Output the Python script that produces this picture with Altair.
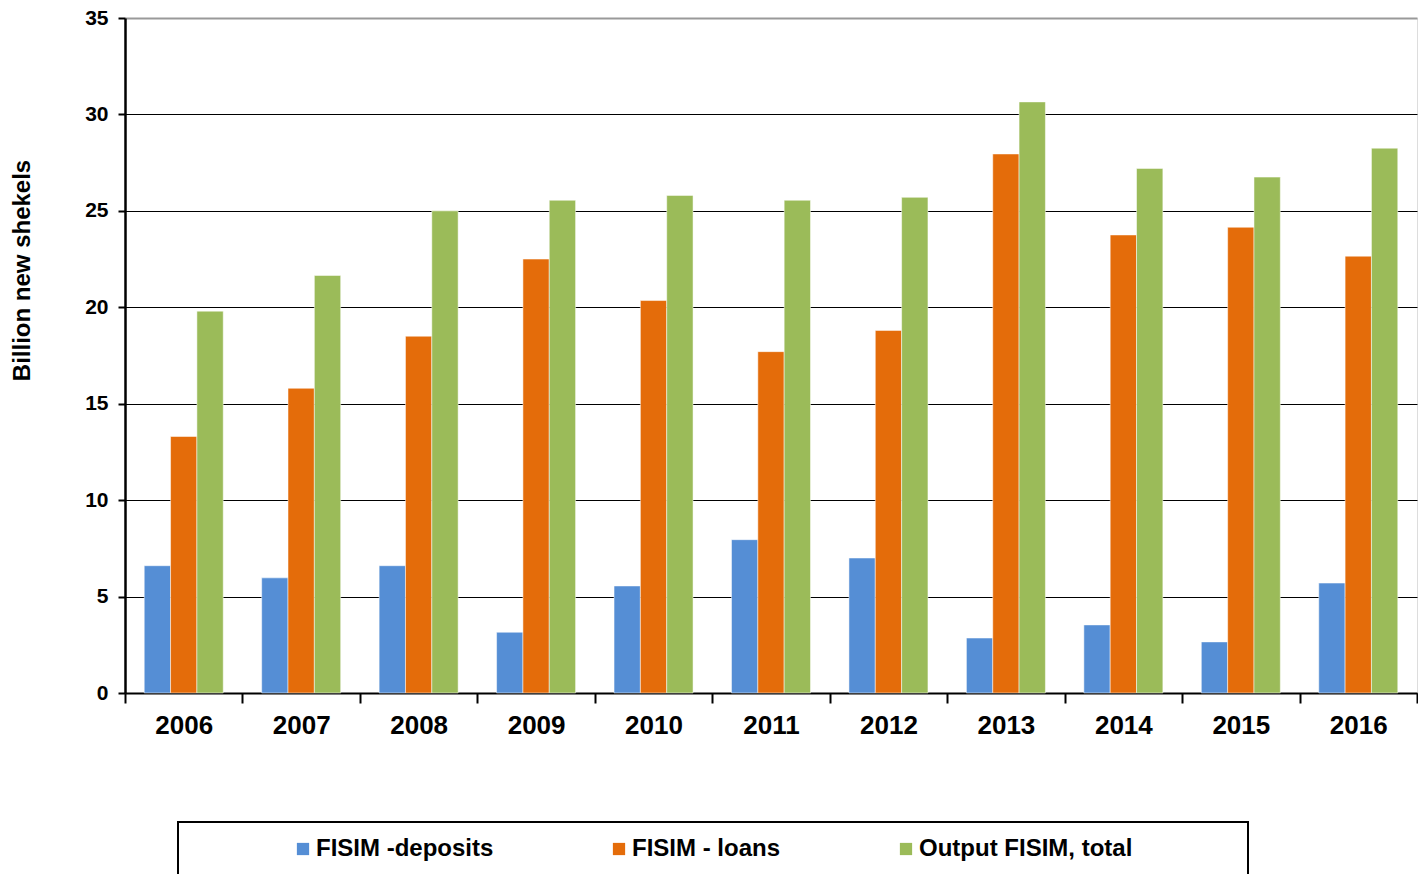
import altair as alt
import pandas as pd

years = ["2006", "2007", "2008", "2009", "2010", "2011", "2012", "2013", "2014", "2015", "2016"]
deposits = [6.6, 5.97, 6.6, 3.15, 5.55, 7.95, 7.0, 2.85, 3.53, 2.65, 5.7]
loans = [13.3, 15.8, 18.5, 22.5, 20.35, 17.7, 18.8, 27.95, 23.75, 24.15, 22.65]
total = [19.8, 21.65, 25.0, 25.55, 25.8, 25.55, 25.7, 30.65, 27.2, 26.75, 28.25]

series = ["FISIM -deposits", "FISIM - loans", "Output FISIM, total"]
colors = ["#558ED5", "#E46C0A", "#9BBB59"]

rows = []
for i, y in enumerate(years):
    for s, vals in zip(series, [deposits, loans, total]):
        rows.append({"year": y, "series": s, "value": vals[i]})
df = pd.DataFrame(rows)

FONT = "Liberation Sans"

bars = alt.Chart(df).mark_bar(stroke="white", strokeWidth=0.5).encode(
    x=alt.X("year:N", sort=years, title=None,
            scale=alt.Scale(paddingInner=0, paddingOuter=0),
            axis=alt.Axis(labelAngle=0, labelFontSize=26, labelFont=FONT, labelFontWeight="bold",
                          labelColor="black", domainColor="black", domainWidth=2,
                          tickColor="black", tickWidth=2, tickSize=10, tickBand="extent",
                          labelPadding=9, grid=False)),
    xOffset=alt.XOffset("series:N", sort=series,
                        scale=alt.Scale(paddingInner=0, paddingOuter=0.73)),
    y=alt.Y("value:Q", title="Billion new shekels",
            scale=alt.Scale(domain=[0, 35], nice=False),
            axis=alt.Axis(values=[0, 5, 10, 15, 20, 25, 30, 35], labelFontSize=21, labelFont=FONT,
                          labelFontWeight="bold", labelColor="black", domainColor="black",
                          domainWidth=2.5, tickColor="black", tickWidth=2, tickSize=7,
                          labelPadding=10,
                          gridColor={"condition": {"test": "datum.value === 35", "value": "#999999"}, "value": "black"},
                          gridWidth={"condition": {"test": "datum.value === 35", "value": 2}, "value": 1},
                          titleFont=FONT, titleFontSize=24, titleFontWeight="bold", titleColor="black",
                          titleAngle=270, titleX=-103, titleY=252, titleAlign="center",
                          titleBaseline="middle")),
    color=alt.Color("series:N", sort=series, scale=alt.Scale(domain=series, range=colors),
                    legend=alt.Legend(orient="none", legendX=166, legendY=819, direction="horizontal",
                                      title=None, symbolType="square", symbolSize=150,
                                      symbolStrokeWidth=0, labelFont=FONT, labelFontSize=24,
                                      labelFontWeight="bold", labelColor="black", labelOffset=1,
                                      columnPadding=113, padding=0, labelLimit=400)),
)

box = alt.Chart(alt.Data(values=[{}])).mark_rect(fill=None, stroke="black", strokeWidth=2).encode(
    x=alt.value(53), x2=alt.value(1123), y=alt.value(804), y2=alt.value(890)
)

chart = alt.layer(bars, box).properties(
    width=1292, height=675,
    autosize=alt.AutoSizeParams(type="none"),
    padding={"left": 125, "top": 18, "right": 1, "bottom": 181},
).configure_view(stroke="#d0d0d0", strokeWidth=1).configure(background="white")

chart.save("out.html", embed_options={"renderer": "svg", "actions": False})
